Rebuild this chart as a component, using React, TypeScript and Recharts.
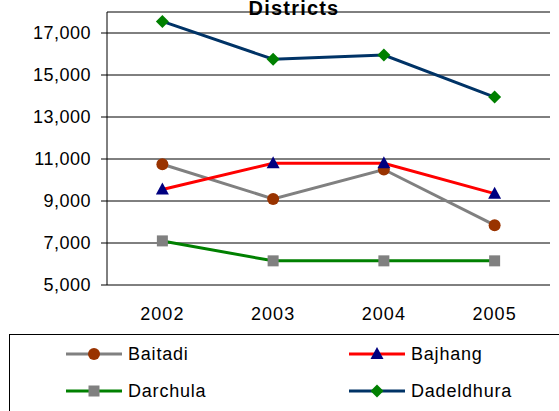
import React from "react";
import {
  CartesianGrid,
  Legend,
  Line,
  LineChart,
  XAxis,
  YAxis,
} from "recharts";

const years = ["2002", "2003", "2004", "2005"];
const baitadi = [10750, 9100, 10500, 7850];
const bajhang = [9550, 10800, 10800, 9350];
const darchula = [7100, 6150, 6150, 6150];
const dadeldhura = [17550, 15750, 15950, 13950];
const yTicks = [5000, 7000, 9000, 11000, 13000, 15000, 17000];
const edgeTicks = [0, 1, 2, 3, 4];

type Shape = "circle" | "triangle" | "square" | "diamond";

const series: { key: string; name: string; line: string; marker: string; shape: Shape }[] = [
  { key: "baitadi", name: "Baitadi", line: "#808080", marker: "#993300", shape: "circle" },
  { key: "bajhang", name: "Bajhang", line: "#ff0000", marker: "#000080", shape: "triangle" },
  { key: "darchula", name: "Darchula", line: "#008000", marker: "#808080", shape: "square" },
  { key: "dadeldhura", name: "Dadeldhura", line: "#003366", marker: "#008000", shape: "diamond" },
];

const data = years.map((year, i) => ({
  year,
  baitadi: baitadi[i],
  bajhang: bajhang[i],
  darchula: darchula[i],
  dadeldhura: dadeldhura[i],
}));

const FONT = "Arial, 'Liberation Sans', sans-serif";

function Marker({ cx, cy, shape, fill }: { cx: number; cy: number; shape: Shape; fill: string }) {
  if (shape === "circle") return <circle cx={cx} cy={cy} r={6} fill={fill} />;
  if (shape === "square") return <rect x={cx - 5.5} y={cy - 5.5} width={11} height={11} fill={fill} />;
  if (shape === "triangle")
    return <polygon points={`${cx},${cy - 7} ${cx + 6.5},${cy + 5} ${cx - 6.5},${cy + 5}`} fill={fill} />;
  return <polygon points={`${cx},${cy - 6.5} ${cx + 6.5},${cy} ${cx},${cy + 6.5} ${cx - 6.5},${cy}`} fill={fill} />;
}

function LegendBox() {
  return (
    <div
      style={{
        position: "absolute",
        left: 9,
        top: 334,
        width: 560,
        height: 90,
        border: "1px solid #000",
        boxSizing: "border-box",
        fontFamily: FONT,
        fontSize: 18,
        letterSpacing: 0.8,
      }}
    >
      {series.map((s, i) => {
        const col = i % 2;
        const row = Math.floor(i / 2);
        return (
          <div
            key={s.key}
            style={{
              position: "absolute",
              left: col === 0 ? 55 : 338,
              top: row === 0 ? 7 : 44,
              height: 24,
              display: "flex",
              alignItems: "center",
            }}
          >
            <svg width={58} height={24} style={{ marginRight: 5 }}>
              <line x1={1} x2={57} y1={12} y2={12} stroke={s.line} strokeWidth={3} />
              <Marker cx={29} cy={12} shape={s.shape} fill={s.marker} />
            </svg>
            <span>{s.name}</span>
          </div>
        );
      })}
    </div>
  );
}

export default function App() {
  return (
    <div style={{ position: "absolute", left: 0, top: 0, width: 559, height: 411, overflow: "hidden", background: "#fff" }}>
      <div
        style={{
          position: "absolute",
          left: 194,
          width: 200,
          top: -3,
          textAlign: "center",
          fontFamily: FONT,
          fontWeight: "bold",
          fontSize: 20,
          letterSpacing: 1.2,
        }}
      >
        Districts
      </div>
      <LineChart
        width={559}
        height={411}
        data={data}
        margin={{ top: 12, right: 9, left: 0, bottom: 86 }}
      >
        <CartesianGrid vertical={false} stroke="#000" xAxisId="main" />
        {/* boundary ticks between the year categories */}
        <XAxis
          xAxisId="edges"
          type="number"
          domain={[0, 4]}
          ticks={edgeTicks}
          allowDataOverflow
          tick={() => <g />}
          height={0}
          tickSize={6}
          axisLine={{ stroke: "#000" }}
          tickLine={{ stroke: "#000" }}
        />
        <XAxis
          xAxisId="main"
          dataKey="year"
          scale="band"
          axisLine={false}
          tickLine={false}
          tickSize={0}
          tickMargin={22}
          height={40}
          tick={{ fill: "#000", fontSize: 18, fontFamily: FONT, letterSpacing: 1 }}
        />
        <YAxis
          width={107}
          domain={[5000, 18000]}
          ticks={yTicks}
          allowDataOverflow
          tickSize={6}
          tickMargin={10}
          axisLine={{ stroke: "#000" }}
          tickLine={{ stroke: "#000" }}
          tickFormatter={(v) => Number(v).toLocaleString("en-US")}
          tick={{ fill: "#000", fontSize: 18, fontFamily: FONT, letterSpacing: 0.5 }}
        />
        <Legend content={() => null} />
        {series.map((s) => (
          <Line
            key={s.key}
            xAxisId="main"
            dataKey={s.key}
            name={s.name}
            stroke={s.line}
            strokeWidth={3}
            isAnimationActive={false}
            dot={(p: any) => <Marker key={`${s.key}-${p.index}`} cx={p.cx} cy={p.cy} shape={s.shape} fill={s.marker} />}
            activeDot={false}
          />
        ))}
      </LineChart>
      <LegendBox />
    </div>
  );
}
